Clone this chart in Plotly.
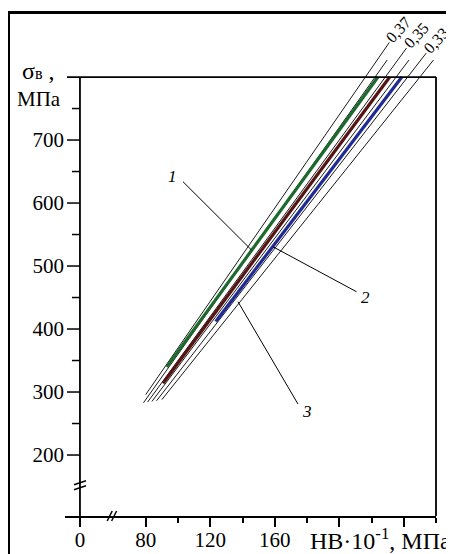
import math
import plotly.graph_objects as go

# ---------------- data ----------------
# thin reference lines  sigma_B = 10 * k * HB(x10^-1)
ratio_k = [0.37, 0.36, 0.35, 0.34, 0.33, 0.32]
ratio_labels = ["0,37", "", "0,35", "", "0,33", ""]
ratio_sigma_lo = [296, 283, 284, 285, 286, 288]
ratio_sigma_hi = [855, 827, 846, 827, 838, 827]

# experimental lines 1 (green), 2 (brown), 3 (blue)
curve_names = ["1", "2", "3"]
curve1_hb = [93.0, 224.0]
curve1_sigma = [340, 800]
curve2_hb = [90.7, 231.3]
curve2_sigma = [314, 800]
curve3_hb = [123.4, 238.8]
curve3_sigma = [412, 800]

# leader lines of the curve labels
leader_tip_hb = [145.6, 158.9, 137.2]
leader_tip_sigma = [525.4, 530.6, 443.3]
leader_tail_hb = [103.1, 210.7, 174.4]
leader_tail_sigma = [633.8, 459.2, 280.9]
label_hb = [96.7, 216.4, 180.2]
label_sigma = [642.9, 450.8, 269.8]

# axes
y_major = [200, 300, 400, 500, 600, 700, 800]
y_minor = [250, 350, 450, 550, 650, 750]
y_ticklabels = ["200", "300", "400", "500", "600", "700"]
x_major = [80, 120, 160, 200, 240]
x_ticklabels = ["80", "120", "160", "", ""]
x_minor = [100, 140, 180, 220, 260]
X_ZERO = 39.2      # position of the broken "0" on the HB axis
X_BREAK = 59.0     # HB-axis break
Y_BREAK = 152.0    # sigma-axis break
X_MIN, X_MAX = 29.92, 260.0
Y_MIN, Y_MAX = 103.2, 906.4
Y_TOP = 800

# ---------------- layout geometry ----------------
OFF = 8                      # default page margin of the html body
W, H = 454 - OFF, 554 - OFF
ML, MR, MT, MB = 65 - OFF, 18, 10 - OFF, 38
PW, PH = W - ML - MR, H - MT - MB
SX = PW / (X_MAX - X_MIN)   # px per HB unit
SY = PH / (Y_MAX - Y_MIN)   # px per MPa


def px2paper_x(px):          # px measured on the screenshot
    return (px - OFF - ML) / PW


def px2paper_y(py):
    return (H - MB - (py - OFF)) / PH


FONT = "Liberation Serif"
BLACK = "#000000"
colors = ["#1d6a2e", "#561414", "#202a94"]

fig = go.Figure()

# thin ratio lines
for k, lo, hi in zip(ratio_k, ratio_sigma_lo, ratio_sigma_hi):
    fig.add_trace(go.Scatter(
        x=[lo / (10 * k), hi / (10 * k)], y=[lo, hi], mode="lines",
        line=dict(color=BLACK, width=0.9), hoverinfo="skip", showlegend=False))

# coloured experimental lines
for name, xs, ys, c in zip(curve_names,
                           [curve1_hb, curve2_hb, curve3_hb],
                           [curve1_sigma, curve2_sigma, curve3_sigma], colors):
    fig.add_trace(go.Scatter(x=xs, y=ys, mode="lines", name=name,
                             line=dict(color=c, width=3.2), showlegend=False))

# leader lines
for x0, y0, x1, y1 in zip(leader_tip_hb, leader_tip_sigma, leader_tail_hb, leader_tail_sigma):
    fig.add_trace(go.Scatter(x=[x0, x1], y=[y0, y1], mode="lines",
                             line=dict(color=BLACK, width=1), hoverinfo="skip", showlegend=False))

annotations = []
# curve labels
for name, x, y in zip(curve_names, label_hb, label_sigma):
    annotations.append(dict(x=x, y=y, xref="x", yref="y", text="<i>%s</i>" % name,
                            showarrow=False, font=dict(family=FONT, size=17, color=BLACK)))

# ratio labels at the end of the long lines
for k, hi, lab in zip(ratio_k, ratio_sigma_hi, ratio_labels):
    if not lab:
        continue
    ang = math.atan2(10 * k * SY, SX)
    d = 16
    annotations.append(dict(x=hi / (10 * k), y=hi, xref="x", yref="y", text=lab,
                            showarrow=False, textangle=-47,
                            xshift=d * math.cos(ang), yshift=d * math.sin(ang),
                            font=dict(family=FONT, size=16, color=BLACK)))

# axis titles
annotations.append(dict(x=px2paper_x(57), y=Y_TOP, xref="paper", yref="y",
                        text="σ<span style='font-size:16px'>в</span> ,", showarrow=False,
                        xanchor="right", yanchor="middle", yshift=6,
                        font=dict(family=FONT, size=24, color=BLACK)))
annotations.append(dict(x=px2paper_x(63), y=px2paper_y(99), xref="paper", yref="paper",
                        text="МПа", showarrow=False, xanchor="right", yanchor="middle",
                        font=dict(family=FONT, size=21, color=BLACK)))
annotations.append(dict(x=px2paper_x(453), y=px2paper_y(539), xref="paper", yref="paper",
                        text="HB·10<sup>-1</sup>, МПа", showarrow=False,
                        xanchor="right", yanchor="middle",
                        font=dict(family=FONT, size=24, color=BLACK)))

shapes = []
LW = 1.8
# y axis line (to the top line at 800)
shapes.append(dict(type="line", xref="x", yref="y", x0=X_ZERO, x1=X_ZERO, y0=Y_MIN, y1=Y_TOP,
                   line=dict(color=BLACK, width=LW)))
# top frame line (extends left as the 800 tick)
shapes.append(dict(type="line", xref="paper", yref="y", x0=px2paper_x(67), x1=1, y0=Y_TOP, y1=Y_TOP,
                   line=dict(color=BLACK, width=LW)))
# right frame line
shapes.append(dict(type="line", xref="paper", yref="y", x0=1, x1=1, y0=Y_MIN, y1=Y_TOP,
                   line=dict(color=BLACK, width=LW)))
# y ticks
for v in y_major[:-1]:
    shapes.append(dict(type="line", xref="x", yref="y", x0=X_ZERO - 13 / SX, x1=X_ZERO, y0=v, y1=v,
                       line=dict(color=BLACK, width=1.5)))
for v in y_minor:
    shapes.append(dict(type="line", xref="x", yref="y", x0=X_ZERO - 8 / SX, x1=X_ZERO, y0=v, y1=v,
                       line=dict(color=BLACK, width=1.5)))
# y break marks
for off in (-2.5, 2.5):
    shapes.append(dict(type="line", xref="x", yref="y",
                       x0=X_ZERO - 6 / SX, x1=X_ZERO + 6 / SX,
                       y0=Y_BREAK + (off - 2) / SY, y1=Y_BREAK + (off + 2) / SY,
                       line=dict(color=BLACK, width=1.5)))
# x break marks
for off in (-2.2, 2.2):
    shapes.append(dict(type="line", xref="x", yref="paper",
                       x0=X_BREAK + (off - 2.5) / SX, x1=X_BREAK + (off + 2.5) / SX,
                       y0=-5 / PH, y1=5 / PH,
                       line=dict(color=BLACK, width=1.5)))
# outer picture frame
fx, fy = px2paper_x(8.5), px2paper_y(12.5)
shapes.append(dict(type="path", xref="paper", yref="paper",
                   path="M %f %f L %f %f L %f %f" % (fx, px2paper_y(570), fx, fy, px2paper_x(470), fy),
                   line=dict(color=BLACK, width=3)))

fig.update_layout(
    width=W, height=H,
    margin=dict(l=ML, r=MR, t=MT, b=MB, pad=0, autoexpand=False),
    paper_bgcolor="white", plot_bgcolor="white",
    font=dict(family=FONT, size=21, color=BLACK),
    showlegend=False,
    annotations=annotations,
    shapes=shapes,
    xaxis=dict(range=[X_MIN, X_MAX], showgrid=False, zeroline=False, automargin=False,
               showline=True, linecolor=BLACK, linewidth=LW,
               tickmode="array", tickvals=[X_ZERO] + x_major, ticktext=["0"] + x_ticklabels,
               ticks="outside", ticklen=9, tickwidth=1.5, tickcolor=BLACK,
               ticklabelstandoff=-5,
               tickfont=dict(family=FONT, size=21, color=BLACK),
               minor=dict(tickmode="array", tickvals=x_minor, ticks="outside",
                          ticklen=5, tickwidth=1.5, tickcolor=BLACK, showgrid=False)),
    yaxis=dict(range=[Y_MIN, Y_MAX], showgrid=False, zeroline=False, showline=False,
               automargin=False,
               tickmode="array", tickvals=y_major[:-1], ticktext=y_ticklabels,
               ticks="", ticklabelstandoff=0,
               tickfont=dict(family=FONT, size=21, color=BLACK)),
)

fig.write_html("out.html")
